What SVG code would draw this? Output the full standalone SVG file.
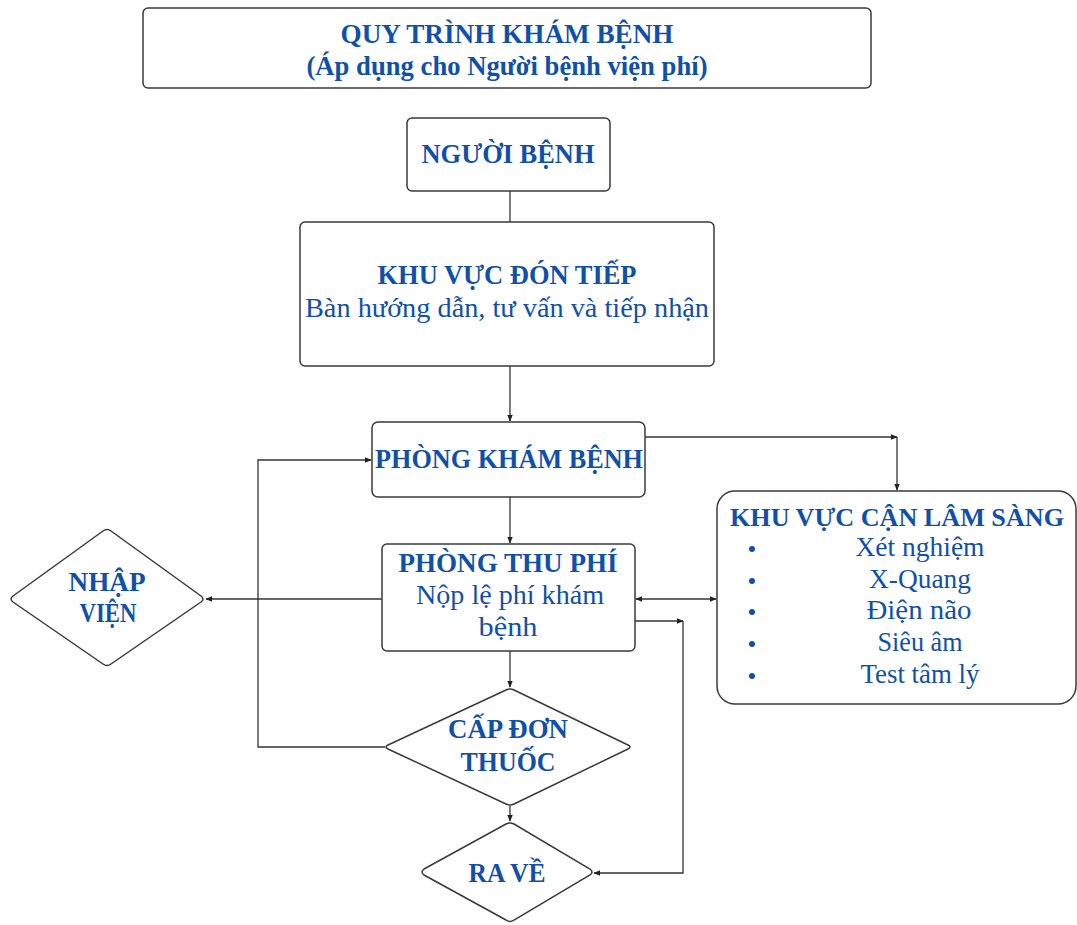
<svg xmlns="http://www.w3.org/2000/svg" width="1077" height="925" viewBox="0 0 1077 925">
<style>
.box{fill:#fff;stroke:#3a3a3a;stroke-width:1.5}
.t{font-family:"Liberation Serif","Times New Roman",serif;fill:#1150a8;text-anchor:middle}
.b{font-weight:bold}
.c{fill:none;stroke:#333;stroke-width:1.3}
</style>
<defs>
<marker id="ah" viewBox="0 0 10 10" refX="9" refY="5" markerWidth="7" markerHeight="7" orient="auto-start-reverse" markerUnits="userSpaceOnUse">
<path d="M0,1 L10,5 L0,9 z" fill="#222"/>
</marker>
</defs>
<rect width="1077" height="925" fill="#fff"/>

<g id="connectors">
<line class="c" x1="510" y1="191" x2="510" y2="222"/>
<line class="c" x1="510" y1="366" x2="510" y2="421" marker-end="url(#ah)"/>
<polyline class="c" points="645,437 897,437" marker-end="url(#ah)"/>
<line class="c" x1="897" y1="437" x2="897" y2="490" marker-end="url(#ah)"/>
<line class="c" x1="510" y1="497" x2="510" y2="543" marker-end="url(#ah)"/>
<line class="c" x1="636" y1="599" x2="716" y2="599" marker-start="url(#ah)" marker-end="url(#ah)"/>
<line class="c" x1="382" y1="599" x2="206" y2="599" marker-end="url(#ah)"/>
<line class="c" x1="635" y1="621" x2="683" y2="621" marker-end="url(#ah)"/>
<polyline class="c" points="683,621 683,873 594,873" marker-end="url(#ah)"/>
<line class="c" x1="510" y1="651" x2="510" y2="687" marker-end="url(#ah)"/>
<line class="c" x1="510" y1="806" x2="510" y2="821" marker-end="url(#ah)"/>
<polyline class="c" points="385,747 258,747 258,460 371,460" marker-end="url(#ah)"/>
</g>

<g id="title">
<rect class="box" x="143" y="8" width="728" height="80" rx="5"/>
<text class="t b" x="507" y="43" font-size="28" textLength="333" lengthAdjust="spacingAndGlyphs">QUY TRÌNH KHÁM BỆNH</text>
<text class="t b" x="507" y="75" font-size="28" textLength="401" lengthAdjust="spacingAndGlyphs">(Áp dụng cho Người bệnh viện phí)</text>
</g>

<g id="nguoi-benh">
<rect class="box" x="407" y="118" width="203" height="73" rx="5"/>
<text class="t b" x="508" y="163" font-size="28" textLength="173" lengthAdjust="spacingAndGlyphs">NGƯỜI BỆNH</text>
</g>

<g id="don-tiep">
<rect class="box" x="300" y="222" width="414" height="144" rx="5"/>
<text class="t b" x="507" y="284" font-size="28" textLength="259" lengthAdjust="spacingAndGlyphs">KHU VỰC ĐÓN TIẾP</text>
<text class="t" x="507" y="317" font-size="28" textLength="404" lengthAdjust="spacingAndGlyphs">Bàn hướng dẫn, tư vấn và tiếp nhận</text>
</g>

<g id="phong-kham">
<rect class="box" x="372" y="422" width="273" height="75" rx="6"/>
<text class="t b" x="509" y="468" font-size="28" textLength="268" lengthAdjust="spacingAndGlyphs">PHÒNG KHÁM BỆNH</text>
</g>

<g id="can-lam-sang">
<rect class="box" x="717" y="491" width="359" height="213" rx="18"/>
<text class="t b" x="897" y="526" font-size="26" textLength="334" lengthAdjust="spacingAndGlyphs">KHU VỰC CẬN LÂM SÀNG</text>
<g fill="#1150a8">
<circle cx="752" cy="549" r="3"/>
<circle cx="752" cy="581" r="3"/>
<circle cx="752" cy="612" r="3"/>
<circle cx="752" cy="644" r="3"/>
<circle cx="752" cy="676" r="3"/>
</g>
<text class="t" x="920" y="556" font-size="28" textLength="129" lengthAdjust="spacingAndGlyphs">Xét nghiệm</text>
<text class="t" x="920" y="588" font-size="28" textLength="102" lengthAdjust="spacingAndGlyphs">X-Quang</text>
<text class="t" x="919" y="619" font-size="28" textLength="105" lengthAdjust="spacingAndGlyphs">Điện não</text>
<text class="t" x="920" y="651" font-size="28" textLength="85" lengthAdjust="spacingAndGlyphs">Siêu âm</text>
<text class="t" x="920" y="683" font-size="28" textLength="119" lengthAdjust="spacingAndGlyphs">Test tâm lý</text>
</g>

<g id="thu-phi">
<rect class="box" x="382" y="544" width="253" height="107" rx="5"/>
<text class="t b" x="508" y="572" font-size="28" textLength="219" lengthAdjust="spacingAndGlyphs">PHÒNG THU PHÍ</text>
<text class="t" x="510" y="604" font-size="28" textLength="188" lengthAdjust="spacingAndGlyphs">Nộp lệ phí khám</text>
<text class="t" x="508" y="636" font-size="28" textLength="59" lengthAdjust="spacingAndGlyphs">bệnh</text>
</g>

<g id="nhap-vien">
<path class="box" d="M13,596 L103,531 Q107,528 111,531 L201,596 Q205,599 201,602 L111,664 Q107,667 103,664 L13,602 Q9,599 13,596 Z"/>
<text class="t b" x="107" y="591" font-size="28" textLength="77" lengthAdjust="spacingAndGlyphs">NHẬP</text>
<text class="t b" x="108" y="622" font-size="28" textLength="57" lengthAdjust="spacingAndGlyphs">VIỆN</text>
</g>

<g id="cap-don-thuoc">
<path class="box" d="M388,745 L506,690 Q510,688 514,690 L628,745 Q632,747 628,749 L514,804 Q510,806 506,804 L388,749 Q384,747 388,745 Z"/>
<text class="t b" x="508" y="738" font-size="28" textLength="120" lengthAdjust="spacingAndGlyphs">CẤP ĐƠN</text>
<text class="t b" x="508" y="771" font-size="28" textLength="95" lengthAdjust="spacingAndGlyphs">THUỐC</text>
</g>

<g id="ra-ve">
<path class="box" d="M424,869 L506,824 Q510,822 514,824 L590,869 Q594,872 590,875 L514,920 Q510,923 506,920 L424,875 Q420,872 424,869 Z"/>
<text class="t b" x="507" y="882" font-size="28" textLength="77" lengthAdjust="spacingAndGlyphs">RA VỀ</text>
</g>
</svg>
